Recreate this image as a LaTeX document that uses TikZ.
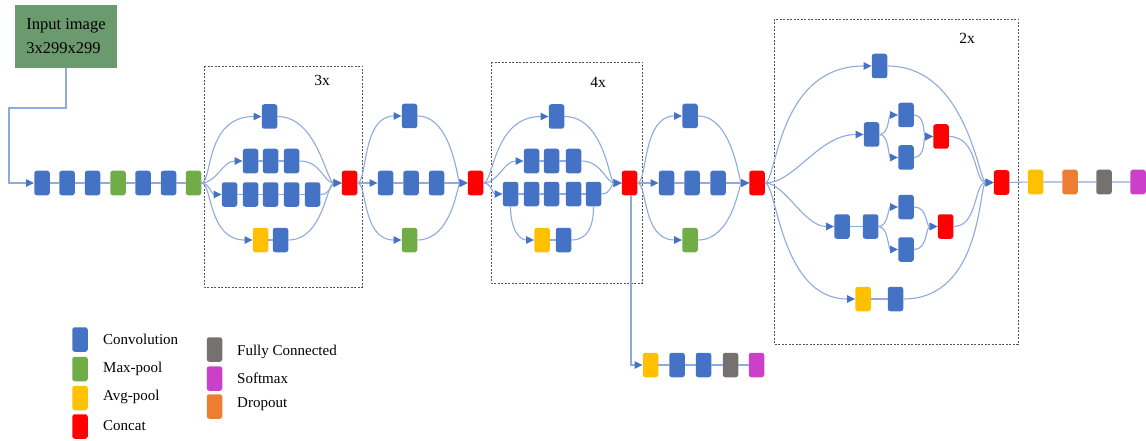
\documentclass[tikz,border=0pt]{standalone}
\usepackage{fontspec}
\setmainfont{Liberation Serif}
\usetikzlibrary{arrows.meta}
\definecolor{cconv}{HTML}{4472C4}
\definecolor{cmax}{HTML}{70AD47}
\definecolor{cavg}{HTML}{FFC000}
\definecolor{ccat}{HTML}{FF0000}
\definecolor{cfc}{HTML}{767171}
\definecolor{csoft}{HTML}{CC3FC8}
\definecolor{cdrop}{HTML}{ED7D31}
\definecolor{cinp}{HTML}{6A9A6E}
\definecolor{cline}{HTML}{8FAADC}
\definecolor{cbox}{HTML}{555555}
\newcommand\crv[4]{\draw[arr] (#1) .. controls +(#3,0) and +(-#4,0) .. (#2);}
\begin{document}
\begin{tikzpicture}[x=1pt,y=-1pt,
  blk/.style={rectangle,rounded corners=2.5pt,minimum width=15.5pt,minimum height=24.5pt,inner sep=0pt,draw=none},
  conv/.style={blk,fill=cconv},
  mpool/.style={blk,fill=cmax},
  apool/.style={blk,fill=cavg},
  cat/.style={blk,fill=ccat},
  fc/.style={blk,fill=cfc},
  soft/.style={blk,fill=csoft},
  drop/.style={blk,fill=cdrop},
  ln/.style={draw=cline,line width=1.1pt},
  arr/.style={ln,-{Triangle[length=8pt,width=7.5pt,color=cconv]}},
  dbox/.style={draw=cbox,dash pattern=on 2pt off 1.5pt,line width=0.7pt},
  txt/.style={font=\fontsize{15.5}{18}\selectfont,inner sep=0pt},
  lbl/.style={font=\fontsize{15}{18}\selectfont,inner sep=0pt,anchor=west}]
\useasboundingbox (0,0) rectangle (1146,441);
% dashed boxes
\draw[dbox] (204,66) rectangle (362,287);
\draw[dbox] (491,62) rectangle (642,283);
\draw[dbox] (774,19) rectangle (1018,344);
\node[txt] (l3x) at (322,80) {3x};
\node[txt] (l4x) at (598,82) {4x};
\node[txt] (l2x) at (967,38) {2x};
% input
\node[fill=cinp,minimum width=102pt,minimum height=63pt,inner sep=0pt,align=left,font=\fontsize{16.5}{24}\selectfont] (inp) at (66,36.5) {Input image\\3x299x299};
% stem
\node[conv] (a1) at (42,183) {};
\node[conv] (a2) at (67,183) {};
\node[conv] (a3) at (92.5,183) {};
\node[mpool] (a4) at (118,183) {};
\node[conv] (a5) at (143,183) {};
\node[conv] (a6) at (168.5,183) {};
\node[mpool] (a7) at (193.5,183) {};
% 3x module
\node[conv] (t1) at (269.5,116.5) {};
\node[conv] (r21) at (250.5,161) {};
\node[conv] (r22) at (270.5,161) {};
\node[conv] (r23) at (291.5,161) {};
\node[conv] (r31) at (229.5,194.5) {};
\node[conv] (r32) at (250.5,194.5) {};
\node[conv] (r33) at (270.5,194.5) {};
\node[conv] (r34) at (291.5,194.5) {};
\node[conv] (r35) at (312.5,194.5) {};
\node[apool] (r41) at (260.5,240) {};
\node[conv] (r42) at (280.5,240) {};
\node[cat] (c1) at (349.5,183) {};
% reduction B
\node[conv] (bt) at (409.5,116) {};
\node[conv] (bm1) at (385.5,183) {};
\node[conv] (bm2) at (411,183) {};
\node[conv] (bm3) at (436.5,183) {};
\node[mpool] (bb) at (409.5,240) {};
\node[cat] (c2) at (475.5,183) {};
% 4x module
\node[conv] (dt) at (556.5,116.5) {};
\node[conv] (d21) at (531.5,161) {};
\node[conv] (d22) at (551.5,161) {};
\node[conv] (d23) at (573.5,161) {};
\node[conv] (d31) at (510.5,194) {};
\node[conv] (d32) at (531.5,194) {};
\node[conv] (d33) at (551.5,194) {};
\node[conv] (d34) at (573.5,194) {};
\node[conv] (d35) at (593.5,194) {};
\node[apool] (d41) at (542,240) {};
\node[conv] (d42) at (563.5,240) {};
\node[cat] (c3) at (629.5,183) {};
% reduction E
\node[conv] (et) at (690,116) {};
\node[conv] (em1) at (666.5,183) {};
\node[conv] (em2) at (692,183) {};
\node[conv] (em3) at (718,183) {};
\node[mpool] (eb) at (690,240) {};
\node[cat] (c4) at (757,183) {};
% 2x module
\node[conv] (ft) at (879.5,66) {};
\node[conv] (fu) at (871.5,134.5) {};
\node[conv] (fu1) at (906,115) {};
\node[conv] (fu2) at (906,157.5) {};
\node[cat] (fur) at (941,136.5) {};
\node[conv] (fl1) at (842,226.5) {};
\node[conv] (fl2) at (870.5,226.5) {};
\node[conv] (fl3) at (906,207) {};
\node[conv] (fl4) at (906,249.5) {};
\node[cat] (flr) at (945.5,226.5) {};
\node[apool] (fb1) at (863,299) {};
\node[conv] (fb2) at (895.5,299) {};
\node[cat] (c5) at (1001.5,182.5) {};
% head
\node[apool] (g1) at (1035.5,182) {};
\node[drop] (g2) at (1070,182) {};
\node[fc] (g3) at (1104,182) {};
\node[soft] (g4) at (1138,182) {};
% auxiliary head
\node[apool] (x1) at (650.5,365) {};
\node[conv] (x2) at (677,365) {};
\node[conv] (x3) at (703.5,365) {};
\node[fc] (x4) at (730.5,365) {};
\node[soft] (x5) at (756.5,365) {};
% legend
\node[conv] (L1) at (80,339.5) {};
\node[mpool] (L2) at (80,369) {};
\node[apool] (L3) at (80,398) {};
\node[cat] (L4) at (80,426.5) {};
\node[fc] (L5) at (214.5,349.5) {};
\node[soft] (L6) at (214.5,378.5) {};
\node[drop] (L7) at (214.5,406.5) {};
\node[lbl] (T1) at (103,339) {Convolution};
\node[lbl] (T2) at (103,369) {Max-pool};
\node[lbl] (T3) at (103,397) {Avg-pool};
\node[lbl] (T4) at (103,426) {Concat};
\node[lbl] (T5) at (237,352) {Fully Connected};
\node[lbl] (T6) at (237,378) {Softmax};
\node[lbl] (T7) at (237,404) {Dropout};
% ---- connectors ----
\draw[arr] (inp.south) -- (inp.south |- 0,108) -- (9,108) |- (a1.west);
\draw[ln] (a1) -- (a2) -- (a3) -- (a4) -- (a5) -- (a6) -- (a7);
% 3x
\crv{a7.east}{t1.west}{11}{57}
\crv{a7.east}{r21.west}{15}{20}
\crv{a7.east}{r31.west}{8}{10}
\crv{a7.east}{r41.west}{11}{45}
\draw[ln] (r21) -- (r22) -- (r23);
\draw[ln] (r31) -- (r32) -- (r33) -- (r34) -- (r35);
\draw[ln] (r41) -- (r42);
\crv{t1.east}{c1.west}{40}{15}
\crv{r23.east}{c1.west}{22}{18}
\crv{r35.east}{c1.west}{10}{10}
\crv{r42.east}{c1.west}{35}{15}
% B
\crv{c1.east}{bt.west}{10}{40}
\draw[arr] (c1.east) -- (bm1.west);
\crv{c1.east}{bb.west}{10}{40}
\draw[ln] (bm1) -- (bm2) -- (bm3);
\crv{bt.east}{c2.west}{35}{10}
\draw[arr] (bm3.east) -- (c2.west);
\crv{bb.east}{c2.west}{35}{10}
% 4x
\crv{c2.east}{dt.west}{10}{55}
\crv{c2.east}{d21.west}{15}{20}
\crv{c2.east}{d31.west}{8}{10}
\draw[ln] (d21) -- (d22) -- (d23);
\draw[ln] (d31) -- (d32) -- (d33) -- (d34) -- (d35);
\draw[ln] (d41) -- (d42);
\draw[arr] (d31.south) .. controls +(0,22) and +(-15,0) .. (d41.west);
\draw[ln] (d42.east) .. controls +(15,0) and +(0,22) .. (d35.south);
\crv{dt.east}{c3.west}{40}{12}
\crv{d23.east}{c3.west}{20}{15}
\crv{d35.east}{c3.west}{10}{10}
% E
\crv{c3.east}{et.west}{10}{40}
\draw[arr] (c3.east) -- (em1.west);
\crv{c3.east}{eb.west}{10}{40}
\draw[ln] (em1) -- (em2) -- (em3);
\crv{et.east}{c4.west}{35}{10}
\draw[arr] (em3.east) -- (c4.west);
\crv{eb.east}{c4.west}{35}{10}
% aux
\draw[arr] ([xshift=1.5pt]c3.south) |- (x1.west);
\draw[ln] (x1) -- (x2) -- (x3) -- (x4) -- (x5);
% 2x
\crv{c4.east}{ft.west}{12}{95}
\crv{c4.east}{fu.west}{30}{45}
\crv{c4.east}{fl1.west}{20}{30}
\crv{c4.east}{fb1.west}{12}{75}
\crv{fu.east}{fu1.west}{10}{10}
\crv{fu.east}{fu2.west}{10}{10}
\crv{fu1.east}{fur.west}{12}{10}
\crv{fu2.east}{fur.west}{12}{10}
\draw[ln] (fl1) -- (fl2);
\crv{fl2.east}{fl3.west}{10}{10}
\crv{fl2.east}{fl4.west}{10}{10}
\crv{fl3.east}{flr.west}{14}{12}
\crv{fl4.east}{flr.west}{14}{12}
\draw[ln] (fb1) -- (fb2);
\crv{ft.east}{c5.west}{80}{15}
\crv{fur.east}{c5.west}{30}{20}
\crv{flr.east}{c5.west}{25}{20}
\crv{fb2.east}{c5.west}{80}{15}
\draw[ln] (c5) -- (g1) -- (g2) -- (g3) -- (g4);
\end{tikzpicture}
\end{document}
